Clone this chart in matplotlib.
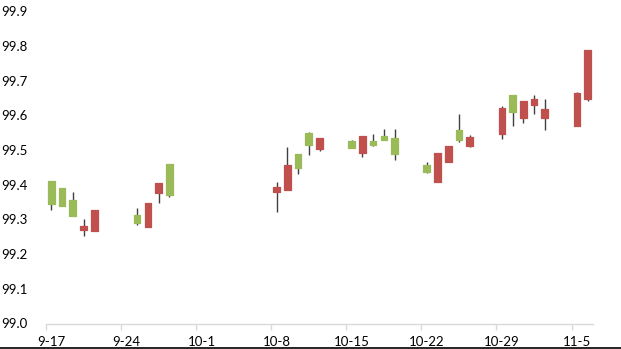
import matplotlib
matplotlib.use("Agg")
import matplotlib.pyplot as plt
from matplotlib.lines import Line2D
import numpy as np
import pandas as pd

plt.rcParams['font.family'] = ['Lato', 'DejaVu Sans']

# ---- data ----
dates = ["2018-09-17", "2018-09-18", "2018-09-19", "2018-09-20", "2018-09-21",
         "2018-09-25", "2018-09-26", "2018-09-27", "2018-09-28",
         "2018-10-08", "2018-10-09", "2018-10-10", "2018-10-11", "2018-10-12",
         "2018-10-15", "2018-10-16", "2018-10-17", "2018-10-18", "2018-10-19",
         "2018-10-22", "2018-10-23", "2018-10-24", "2018-10-25", "2018-10-26",
         "2018-10-29", "2018-10-30", "2018-10-31", "2018-11-01", "2018-11-02",
         "2018-11-05", "2018-11-06"]
open_ = [99.412, 99.392, 99.357, 99.269, 99.268,
         99.313, 99.278, 99.376, 99.459,
         99.378, 99.384, 99.489, 99.550, 99.503,
         99.527, 99.492, 99.527, 99.542, 99.534,
         99.458, 99.408, 99.466, 99.557, 99.513,
         99.547, 99.658, 99.593, 99.629, 99.593,
         99.569, 99.648]
close = [99.345, 99.338, 99.309, 99.282, 99.328,
         99.291, 99.347, 99.405, 99.371,
         99.394, 99.458, 99.450, 99.514, 99.535,
         99.506, 99.542, 99.514, 99.529, 99.489,
         99.437, 99.492, 99.513, 99.528, 99.538,
         99.621, 99.609, 99.643, 99.648, 99.619,
         99.665, 99.788]
high = [99.412, 99.392, 99.378, 99.302, 99.328,
        99.333, 99.347, 99.405, 99.459,
        99.407, 99.508, 99.489, 99.552, 99.535,
        99.530, 99.542, 99.548, 99.562, 99.562,
        99.465, 99.492, 99.513, 99.603, 99.545,
        99.627, 99.658, 99.643, 99.660, 99.648,
        99.668, 99.788]
low = [99.328, 99.338, 99.309, 99.251, 99.268,
       99.283, 99.278, 99.348, 99.364,
       99.323, 99.384, 99.432, 99.487, 99.497,
       99.506, 99.479, 99.511, 99.529, 99.473,
       99.434, 99.408, 99.466, 99.523, 99.508,
       99.533, 99.569, 99.579, 99.603, 99.559,
       99.569, 99.641]
tick_labels = ["9-17", "9-24", "10-1", "10-8", "10-15", "10-22", "10-29", "11-5"]
y_ticks = [99.0, 99.1, 99.2, 99.3, 99.4, 99.5, 99.6, 99.7, 99.8, 99.9]

UP = "#C0504D"
DOWN = "#9BBB59"
WICK = "#404040"

start = pd.Timestamp("2018-09-17")
x = np.array([(pd.Timestamp(d) - start).days for d in dates])
o = np.array(open_); c = np.array(close); h = np.array(high); l = np.array(low)

W, H = 621, 349
fig = plt.figure(figsize=(W / 100, H / 100), dpi=100)
ax = fig.add_axes([46 / W, 1 - 323.5 / H, (593 - 46) / W, (323.5 - 11.5) / H])

ax.vlines(x, l, h, color=WICK, linewidth=1.0, zorder=1)
colors = [UP if ci >= oi else DOWN for oi, ci in zip(o, c)]
bottoms = np.minimum(o, c)
heights = np.maximum(np.abs(c - o), 0.004)
ax.bar(x, heights, bottom=bottoms, width=0.62, color=colors, edgecolor=colors,
       linewidth=0.9, joinstyle='round', zorder=2)

ax.set_xlim(-0.5, 50.5)
ax.set_ylim(99.0, 99.9)
ax.set_yticks(y_ticks)
ax.set_yticklabels([f"{v:.1f}" for v in y_ticks])

ax.set_xticks([7 * k - 0.5 for k in range(8)])
ax.set_xticklabels([])
ax.set_xticks([7 * k for k in range(8)], minor=True)
ax.set_xticklabels(tick_labels, minor=True)
ax.tick_params(axis='x', which='major', length=4, width=1, color="#D9D9D9", direction='out')
ax.tick_params(axis='x', which='minor', length=0, pad=9, labelsize=9.5, labelcolor="#000000")
ax.tick_params(axis='y', length=0, pad=13, labelsize=9.5, labelcolor="#000000")

for s in ["top", "right", "left"]:
    ax.spines[s].set_visible(False)
ax.spines["bottom"].set_color("#D9D9D9")
ax.spines["bottom"].set_linewidth(1.0)

fig.add_artist(Line2D([0, 1], [0.8 / H, 0.8 / H], color="black", linewidth=1.2,
                      transform=fig.transFigure))

fig.savefig("out.png", dpi=100)
